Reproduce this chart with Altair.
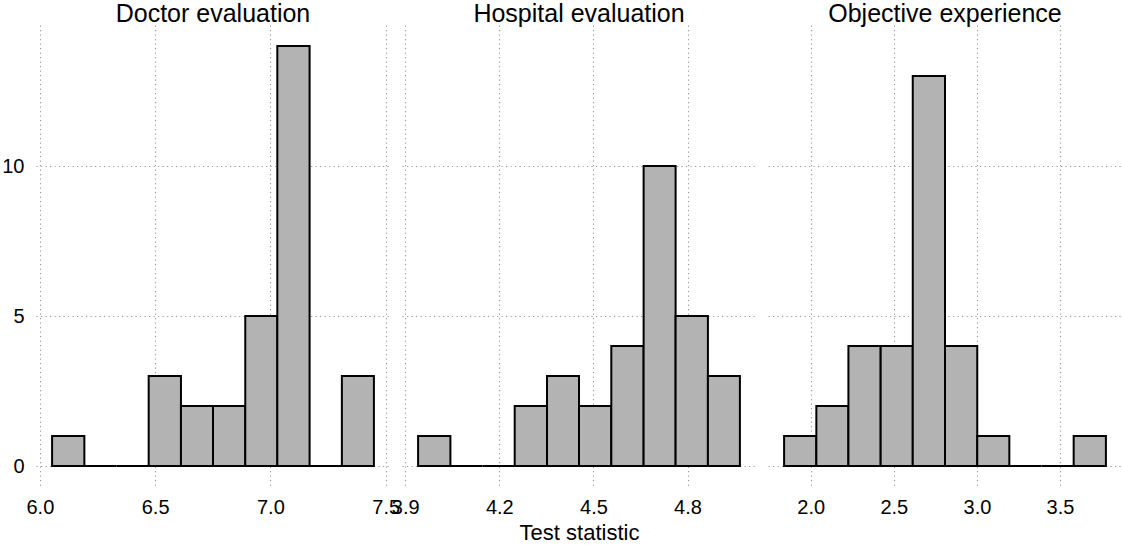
import altair as alt
import pandas as pd

# ---- data ----
panel_titles = ["Doctor evaluation", "Hospital evaluation", "Objective experience"]

doctor_edges = [6.053, 6.193, 6.332, 6.472, 6.612, 6.751, 6.891, 7.030, 7.170, 7.310, 7.449]
doctor_counts = [1, 0, 0, 3, 2, 2, 5, 14, 0, 3]

hospital_edges = [3.941, 4.044, 4.146, 4.249, 4.352, 4.454, 4.557, 4.660, 4.762, 4.865, 4.967]
hospital_counts = [1, 0, 0, 2, 3, 2, 4, 10, 5, 3]

objective_edges = [1.840, 2.034, 2.227, 2.421, 2.614, 2.808, 3.002, 3.195, 3.389, 3.582, 3.776]
objective_counts = [1, 2, 4, 4, 13, 4, 1, 0, 0, 1]

doctor_ticks = [6.0, 6.5, 7.0, 7.5]
hospital_ticks = [3.9, 4.2, 4.5, 4.8]
objective_ticks = [2.0, 2.5, 3.0, 3.5]
y_ticks = [0, 5, 10]
x_title = "Test statistic"

FONT = "Liberation Sans"
W, H = 354, 462

all_counts = doctor_counts + hospital_counts + objective_counts
ymax = max(all_counts)
y_domain = [-0.05 * ymax, ymax * 1.05]

GRID = dict(grid=True, gridColor="#9a9a9a", gridDash=[1.2, 3.3], gridWidth=1.1,
            domain=False, ticks=False, tickSize=0)


def panel(title, edges, counts, ticks, first, middle):
    df = pd.DataFrame({
        "start": edges[:-1],
        "end": edges[1:],
        "count": counts,
        "base": [0] * len(counts),
    })
    lo, hi = edges[0], edges[-1]
    pad = 0.05 * (hi - lo)
    x_axis_kwargs = dict(values=ticks, format=".1f", labelFlush=False, labelOverlap=False,
                         labelFontSize=20, labelFont=FONT, labelColor="black", labelPadding=10,
                         titleFontSize=22, titleFont=FONT, titleFontWeight="normal",
                         titleColor="black", titlePadding=5, **GRID)
    if middle:
        x_axis = alt.Axis(title=x_title, **x_axis_kwargs)
    else:
        x_axis = alt.Axis(title="", **x_axis_kwargs)
    if first:
        y_axis = alt.Axis(values=y_ticks, title="", labelFontSize=20, labelFont=FONT,
                          labelColor="black", labelPadding=12, **GRID)
    else:
        y_axis = alt.Axis(values=y_ticks, title="", labels=False, **GRID)
    return (
        alt.Chart(df)
        .mark_rect(fill="#b3b3b3", stroke="black", strokeWidth=2)
        .encode(
            x=alt.X("start:Q", scale=alt.Scale(domain=[lo - pad, hi + pad], nice=False, zero=False),
                    axis=x_axis),
            x2="end:Q",
            y=alt.Y("count:Q", scale=alt.Scale(domain=y_domain, nice=False, zero=False), axis=y_axis),
            y2="base:Q",
        )
        .properties(
            width=W, height=H,
            title=alt.TitleParams(title, fontSize=25, font=FONT, fontWeight="normal", color="black",
                                  anchor="middle", baseline="alphabetic", offset=-22),
        )
    )


p1 = panel(panel_titles[0], doctor_edges, doctor_counts, doctor_ticks, True, False)
p2 = panel(panel_titles[1], hospital_edges, hospital_counts, hospital_ticks, False, True)
p3 = panel(panel_titles[2], objective_edges, objective_counts, objective_ticks, False, False)

chart = (
    alt.hconcat(p1, p2, p3, spacing=12, bounds="flush")
    .properties(padding={"left": 1, "top": 2, "right": 0, "bottom": 0}, background="white")
    .configure_view(stroke=None)
)

chart.save("out.html", embed_options={"renderer": "svg", "actions": False})
